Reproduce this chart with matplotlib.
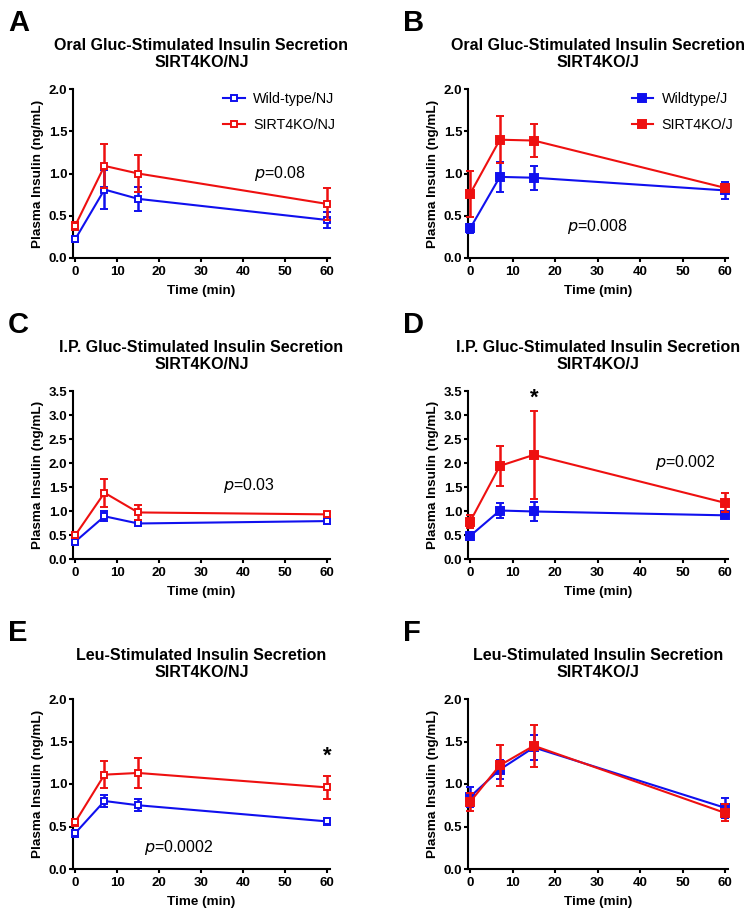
import matplotlib
matplotlib.use("Agg")
import matplotlib.pyplot as plt
import numpy as np

plt.rcParams['font.family'] = ['Liberation Sans', 'DejaVu Sans']

time = [0, 7, 15, 60]

# Panel A: Oral, NJ
a_wt = [0.22, 0.81, 0.70, 0.45]
a_wt_err = [0.03, 0.23, 0.14, 0.09]
a_ko = [0.38, 1.09, 1.00, 0.64]
a_ko_err = [0.05, 0.26, 0.22, 0.19]
# Panel B: Oral, J
b_wt = [0.35, 0.96, 0.95, 0.80]
b_wt_err = [0.05, 0.18, 0.14, 0.10]
b_ko = [0.76, 1.40, 1.39, 0.83]
b_ko_err = [0.27, 0.28, 0.20, 0.04]
# Panel C: IP, NJ
c_wt = [0.36, 0.89, 0.74, 0.79]
c_wt_err = [0.05, 0.10, 0.06, 0.07]
c_ko = [0.49, 1.38, 0.97, 0.93]
c_ko_err = [0.05, 0.29, 0.16, 0.05]
# Panel D: IP, J
d_wt = [0.48, 1.01, 0.99, 0.91]
d_wt_err = [0.08, 0.16, 0.19, 0.05]
d_ko = [0.78, 1.94, 2.17, 1.17]
d_ko_err = [0.13, 0.41, 0.91, 0.20]
# Panel E: Leu, NJ
e_wt = [0.42, 0.80, 0.75, 0.56]
e_wt_err = [0.04, 0.07, 0.07, 0.04]
e_ko = [0.55, 1.11, 1.13, 0.96]
e_ko_err = [0.04, 0.16, 0.18, 0.14]
# Panel F: Leu, J
f_wt = [0.85, 1.17, 1.43, 0.72]
f_wt_err = [0.12, 0.11, 0.15, 0.12]
f_ko = [0.79, 1.22, 1.45, 0.66]
f_ko_err = [0.11, 0.24, 0.25, 0.10]

titles = [
    "Oral Gluc-Stimulated Insulin Secretion\nSIRT4KO/NJ",
    "Oral Gluc-Stimulated Insulin Secretion\nSIRT4KO/J",
    "I.P. Gluc-Stimulated Insulin Secretion\nSIRT4KO/NJ",
    "I.P. Gluc-Stimulated Insulin Secretion\nSIRT4KO/J",
    "Leu-Stimulated Insulin Secretion\nSIRT4KO/NJ",
    "Leu-Stimulated Insulin Secretion\nSIRT4KO/J",
]
letters = ["A", "B", "C", "D", "E", "F"]
ymaxes = [2.0, 2.0, 3.5, 3.5, 2.0, 2.0]
p_texts = ["0.08", "0.008", "0.03", "0.002", "0.0002", None]
p_pos = [(48.8, 1.0), (29.9, 0.37), (41.4, 1.53), (50.6, 2.0), (24.7, 0.25), None]
star_pos = [None, None, None, (15, 3.35), (60, 1.33), None]
legend_labels = [("Wild-type/NJ", "SIRT4KO/NJ"), ("Wildtype/J", "SIRT4KO/J"),
                 None, None, None, None]

data = [
    (a_wt, a_wt_err, a_ko, a_ko_err),
    (b_wt, b_wt_err, b_ko, b_ko_err),
    (c_wt, c_wt_err, c_ko, c_ko_err),
    (d_wt, d_wt_err, d_ko, d_ko_err),
    (e_wt, e_wt_err, e_ko, e_ko_err),
    (f_wt, f_wt_err, f_ko, f_ko_err),
]

W, H = 754, 918
fig = plt.figure(figsize=(W / 100, H / 100), dpi=100)

col_x = [(73, 330), (468, 728)]
row_y = [(89, 258), (391, 559), (699, 869)]

blue = "#1010ee"
red = "#ee1010"

for i in range(6):
    r, c = divmod(i, 2)
    x0, x1 = col_x[c]
    y0, y1 = row_y[r]
    ax = fig.add_axes([x0 / W, 1 - y1 / H, (x1 - x0) / W, (y1 - y0) / H])
    wt, wte, ko, koe = data[i]
    hollow = (c == 0)
    for vals, errs, col, z in [(wt, wte, blue, 3), (ko, koe, red, 4)]:
        ax.errorbar(time, vals, yerr=errs, color=col, lw=1.5, capsize=3,
                    capthick=1.8, elinewidth=1.8, marker='s',
                    ms=4.6 if hollow else 5.4,
                    mfc='white' if hollow else col, mec=col, mew=1.4,
                    clip_on=False, zorder=z)
    ax.set_xlim(-0.5, 60.7)
    ax.set_ylim(0, ymaxes[i])
    ax.set_xticks([0, 10, 20, 30, 40, 50, 60])
    step = 0.5
    ax.set_yticks(np.arange(0, ymaxes[i] + 0.01, step))
    ax.set_yticklabels([f"{v:.1f}" for v in np.arange(0, ymaxes[i] + 0.01, step)])
    for s in ["top", "right"]:
        ax.spines[s].set_visible(False)
    for s in ["left", "bottom"]:
        ax.spines[s].set_linewidth(1.5)
    ax.tick_params(width=1.5, length=3, labelsize=9.5)
    ax.tick_params(axis='y', pad=1)
    ax.tick_params(axis='x', pad=2.5)
    for lab in ax.get_xticklabels() + ax.get_yticklabels():
        lab.set_fontweight('bold')
    ax.set_xlabel("Time (min)", fontsize=9.7, fontweight='bold', labelpad=5)
    ax.set_ylabel("Plasma Insulin (ng/mL)", fontsize=9.7, fontweight='bold', labelpad=3.5)
    ax.set_title(titles[i], fontsize=11.5, fontweight='bold', pad=16, linespacing=1.15)
    if p_texts[i]:
        px, py = p_pos[i]
        ax.text(px, py, r"$\it{p}$" + "=" + p_texts[i], fontsize=11.5,
                ha='center', va='center')
    if star_pos[i]:
        sx, sy = star_pos[i]
        ax.text(sx, sy, "*", fontsize=16, fontweight='bold', ha='center', va='center')
    if legend_labels[i]:
        h1, = ax.plot([], [], color=blue, lw=1.5, marker='s',
                      ms=4.6 if hollow else 5.4,
                      mfc='white' if hollow else blue, mec=blue, mew=1.4)
        h2, = ax.plot([], [], color=red, lw=1.5, marker='s',
                      ms=4.6 if hollow else 5.4,
                      mfc='white' if hollow else red, mec=red, mew=1.4)
        ax.legend([h1, h2], list(legend_labels[i]), loc='upper right',
                  frameon=False, fontsize=10.3, handlelength=1.5,
                  handletextpad=0.6,
                  bbox_to_anchor=(1.07, 1.06), labelspacing=0.85)
    # Panel letter
    lx = 8 if c == 0 else 403
    ly = [23, 325, 633][r]
    fig.text(lx / W, 1 - ly / H, letters[i], fontsize=21, fontweight='bold',
             ha='left', va='center')

fig.savefig("out.png", dpi=100)
